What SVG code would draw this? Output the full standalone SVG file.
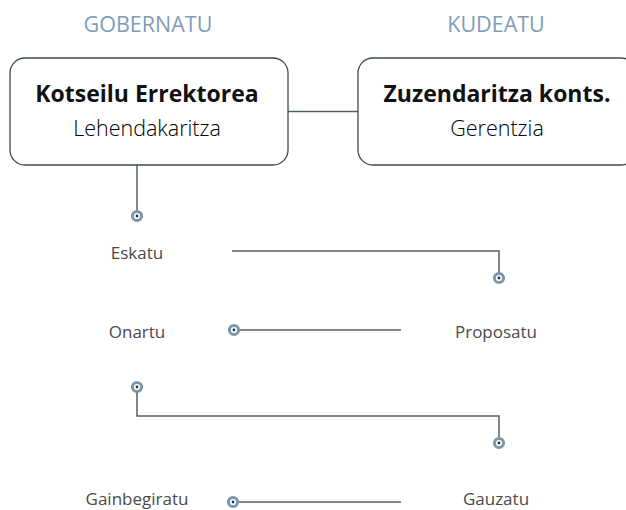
<svg xmlns="http://www.w3.org/2000/svg" width="626" height="510" viewBox="0 0 626 510">
<style>
.hdr{font-family:"Open Sans","Noto Sans",sans-serif;font-size:21.5px;fill:#7f9db5;text-anchor:middle}
.box{fill:#fff;stroke:#3f4a4a;stroke-width:1.3}
.ttl{font-family:"Open Sans","Noto Sans",sans-serif;font-size:23px;font-weight:bold;fill:#111;text-anchor:middle}
.sub{font-family:"Open Sans","Noto Sans",sans-serif;font-size:21.5px;font-weight:300;fill:#000;text-anchor:middle}
.lbl{font-family:"Open Sans","Noto Sans",sans-serif;font-size:17px;fill:#4a4a4a;text-anchor:middle}
.con{fill:none;stroke:#56625f;stroke-width:1.5}
</style>
<defs>
<marker id="dot" viewBox="-7 -7 14 14" refX="0" refY="0" markerWidth="14" markerHeight="14" markerUnits="userSpaceOnUse" orient="auto">
<circle r="4.6" fill="#fff" stroke="#7a97ae" stroke-width="3"/>
<circle r="1.4" fill="#333"/>
</marker>
</defs>
<text class="hdr" x="148" y="32">GOBERNATU</text>
<text class="hdr" x="496" y="32">KUDEATU</text>
<g id="connectors">
<path class="con" d="M288 111.5 H358"/>
<path class="con" d="M137 165 V216" marker-end="url(#dot)"/>
<path class="con" d="M232 251 H499 V278" marker-end="url(#dot)"/>
<path class="con" d="M401 330 H234" marker-end="url(#dot)"/>
<path class="con" d="M137 387 V416 H499 V443" marker-start="url(#dot)" marker-end="url(#dot)"/>
<path class="con" d="M401 502 H233" marker-end="url(#dot)"/>
</g>
<g id="kotseilu">
<rect class="box" x="10" y="58" width="278" height="107" rx="15"/>
<text class="ttl" x="147" y="102">Kotseilu Errektorea</text>
<text class="sub" x="147" y="136">Lehendakaritza</text>
</g>
<g id="zuzendaritza">
<rect class="box" x="358" y="58" width="278" height="107" rx="15"/>
<text class="ttl" x="497" y="102">Zuzendaritza konts.</text>
<text class="sub" x="497" y="136">Gerentzia</text>
</g>
<g id="eskatu"><text class="lbl" x="137" y="259">Eskatu</text></g>
<g id="onartu"><text class="lbl" x="137" y="338">Onartu</text></g>
<g id="proposatu"><text class="lbl" x="496" y="338">Proposatu</text></g>
<g id="gainbegiratu"><text class="lbl" x="137" y="505">Gainbegiratu</text></g>
<g id="gauzatu"><text class="lbl" x="496" y="505">Gauzatu</text></g>
</svg>
